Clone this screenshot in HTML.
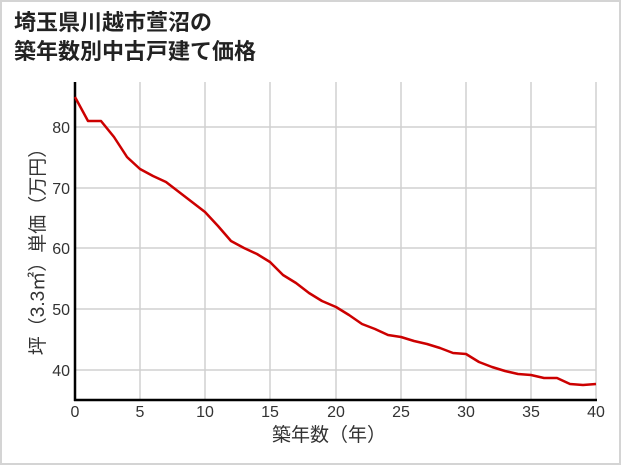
<!DOCTYPE html>
<html><head><meta charset="utf-8"><style>
html,body{margin:0;padding:0;background:#fff}
</style></head><body>
<svg width="621" height="465" xmlns="http://www.w3.org/2000/svg" style="display:block">
<rect x="1" y="1" width="619" height="463" fill="#fff" stroke="#d4d4d4" stroke-width="2"/>
<g font-family="'Liberation Sans','Noto Sans CJK JP',sans-serif" font-weight="bold" font-size="22" fill="#222">
<text x="14" y="30">埼玉県川越市萱沼の</text>
<text x="14" y="59">築年数別中古戸建て価格</text>
</g>
<g stroke="#d0d0d0" stroke-width="1.5">
<line x1="140" y1="82" x2="140" y2="400"/><line x1="205" y1="82" x2="205" y2="400"/>
<line x1="270" y1="82" x2="270" y2="400"/><line x1="336" y1="82" x2="336" y2="400"/>
<line x1="401" y1="82" x2="401" y2="400"/><line x1="466" y1="82" x2="466" y2="400"/>
<line x1="531" y1="82" x2="531" y2="400"/><line x1="596" y1="82" x2="596" y2="400"/>
<line x1="75" y1="127" x2="596" y2="127"/><line x1="75" y1="188" x2="596" y2="188"/>
<line x1="75" y1="248" x2="596" y2="248"/><line x1="75" y1="309" x2="596" y2="309"/>
<line x1="75" y1="370" x2="596" y2="370"/>
</g>
<g stroke="#000" stroke-width="2.5"><line x1="75" y1="82" x2="75" y2="401"/><line x1="74" y1="400" x2="597" y2="400"/></g>
<polyline fill="none" stroke="#cc0000" stroke-width="2.5" stroke-linejoin="round" points="
75,97 88,121 101,121 114,137 127,157 140,169 153,176 166,182 179,192 192,202 205,212 218,226 231,241 244,248 257,254 270,262 283,275 296,283 309,293 322,301 336,307 349,315 362,324 375,329 388,335 401,337 414,341 427,344 440,348 453,353 466,354 479,362 492,367 505,371 518,374 531,375 544,378 557,378 570,384 583,385 596,384"/>
<g font-family="'Liberation Sans','Noto Sans CJK JP',sans-serif" font-size="16" fill="#333" text-anchor="middle">
<g transform="translate(0,0)">
<text x="75" y="417">0</text><text x="140" y="417">5</text><text x="205" y="417">10</text>
<text x="270" y="417">15</text><text x="336" y="417">20</text><text x="401" y="417">25</text>
<text x="466" y="417">30</text><text x="531" y="417">35</text><text x="596" y="417">40</text>
</g>
<g text-anchor="end">
<text x="70" y="133">80</text><text x="70" y="194">70</text><text x="70" y="254">60</text>
<text x="70" y="315">50</text><text x="70" y="376">40</text>
</g>
<text x="329" y="441" font-size="19">築年数（年）</text>
<text transform="translate(44,247) rotate(-90)" font-size="19">坪（3.3㎡）単価（万円）</text>
</g>
</svg>
</body></html>
